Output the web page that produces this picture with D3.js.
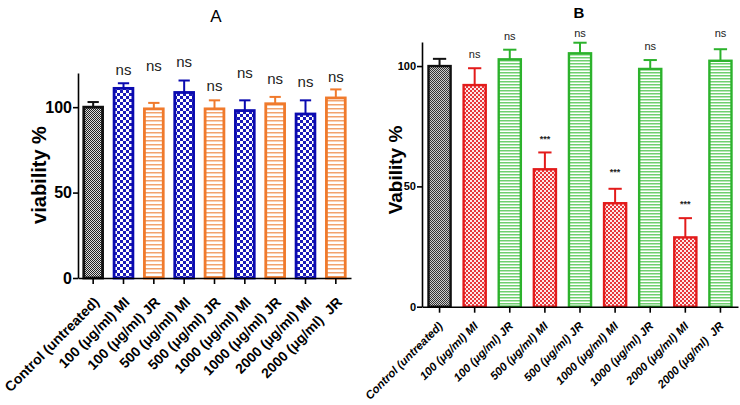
<!DOCTYPE html>
<html lang="en">
<head>
<meta charset="UTF-8" />
<title>Viability</title>
<script src="https://d3js.org/d3.v7.min.js"></script>
<style>
  body { margin: 0; background: #fff; }
  text { font-family: "Liberation Sans", Arial, sans-serif; white-space: pre; }
</style>
</head>
<body>
<script>
// categories shared by both panels
var categories = ["Control (untreated)", "100 (μg/ml) MI", "100 (μg/ml) JR", "500 (μg/ml) MI", "500 (μg/ml) JR",
  "1000 (μg/ml) MI", "1000 (μg/ml) JR", "2000 (μg/ml) MI", "2000 (μg/ml)  JR"];
var kinds = ["ctrl", "MI", "JR", "MI", "JR", "MI", "JR", "MI", "JR"];

// panel A
var meanA = [100, 111, 99, 108.6, 99, 98, 102, 96, 105.4];
var errA = [3, 3, 3.5, 7, 5, 6, 4, 8, 5];
var noteA = ["", "ns", "ns", "ns", "ns", "ns", "ns", "ns", "ns"];
var noteLevelA = [0, 121, 123.4, 125.7, 111.7, 119.3, 115.8, 114, 117];
var ticksA = [0, 50, 100];

// panel B
var meanB = [100, 92.1, 102.8, 57.1, 105.3, 43, 98.8, 28.8, 102.2];
var errB = [3, 7, 4, 7, 4.4, 6, 3.7, 8, 4.8];
var noteB = ["", "ns", "ns", "***", "ns", "***", "ns", "***", "ns"];
var noteLevelB = [0, 104.6, 112, 70.5, 113.4, 56.8, 107.9, 43.5, 113.3];
var ticksB = [0, 50, 100];

var svg = d3.select("body").append("svg")
  .attr("width", 740)
  .attr("height", 405);

var defs = svg.append("defs");

function checker(id, size, color, bg) {
  var p = defs.append("pattern").attr("id", id)
    .attr("patternUnits", "userSpaceOnUse")
    .attr("width", size * 2).attr("height", size * 2);
  p.append("rect").attr("width", size * 2).attr("height", size * 2).attr("fill", bg);
  p.append("rect").attr("width", size).attr("height", size).attr("fill", color);
  p.append("rect").attr("x", size).attr("y", size).attr("width", size).attr("height", size).attr("fill", color);
}
function hlines(id, gap, color, w) {
  var p = defs.append("pattern").attr("id", id)
    .attr("patternUnits", "userSpaceOnUse")
    .attr("width", 8).attr("height", gap);
  p.append("rect").attr("width", 8).attr("height", gap).attr("fill", "#fff");
  p.append("rect").attr("y", 0).attr("width", 8).attr("height", w).attr("fill", color);
}

checker("grayA", 1, "#222", "#ddd");
checker("blueA", 3, "#1a1ab8", "#fff");
hlines("orangeA", 4, "#f2a36e", 1.5);
checker("grayB", 1, "#333", "#ccc");
checker("redB", 2, "#e8363a", "#fde8e8");
hlines("greenB", 3, "#6fcf6f", 1.5);

var panelA = {
  mean: meanA, err: errA, note: noteA, noteLevel: noteLevelA, ticks: ticksA,
  xRange: [78, 351], yDomain: [0, 120], yRange: [278, 73], pad: 0.38,
  styles: {
    ctrl: { stroke: "#111", fill: "url(#grayA)" },
    MI: { stroke: "#0a0ab0", fill: "url(#blueA)" },
    JR: { stroke: "#f07a2c", fill: "url(#orangeA)" }
  },
  strokeW: 2.8, tickFont: "bold 16px", labelFont: "bold 14px", labelStyle: "normal",
  labelShift: [7, 25], noteFont: 15, starFont: 9,
  title: "A", titleX: 216, titleY: 22, titleFont: "normal 17px",
  yTitle: "viability %", yTitleX: 39, yTitleY: 175, yTitleFont: "bold 20px"
};

var panelB = {
  mean: meanB, err: errB, note: noteB, noteLevel: noteLevelB, ticks: ticksB,
  xRange: [422, 738], yDomain: [0, 110], yRange: [306.7, 42], pad: 0.37,
  styles: {
    ctrl: { stroke: "#111", fill: "url(#grayB)" },
    MI: { stroke: "#e31b1b", fill: "url(#redB)" },
    JR: { stroke: "#2cb22c", fill: "url(#greenB)" }
  },
  strokeW: 2.4, tickFont: "bold 11px", labelFont: "bold 11.5px", labelStyle: "italic",
  labelShift: [4, 20], noteFont: 11, starFont: 9,
  title: "B", titleX: 579, titleY: 18, titleFont: "bold 15px",
  yTitle: "Vability %", yTitleX: 395, yTitleY: 170, yTitleFont: "bold 19px"
};

function drawPanel(cfg) {
  var g = svg.append("g");
  var x = d3.scaleBand().domain(categories).range(cfg.xRange)
    .paddingInner(cfg.pad).paddingOuter(cfg.pad / 2);
  var y = d3.scaleLinear().domain(cfg.yDomain).range(cfg.yRange);
  var rows = categories.map(function (c, i) {
    return { cat: c, kind: kinds[i], mean: cfg.mean[i], err: cfg.err[i], note: cfg.note[i], level: cfg.noteLevel[i] };
  });

  // error bars (upper only)
  var capW = x.bandwidth() * 0.6;
  g.selectAll(".err").data(rows).enter().append("g")
    .attr("stroke", function (d) { return cfg.styles[d.kind].stroke; })
    .attr("stroke-width", 2)
    .each(function (d) {
      var cx = x(d.cat) + x.bandwidth() / 2;
      d3.select(this).append("line")
        .attr("x1", cx).attr("x2", cx)
        .attr("y1", y(d.mean)).attr("y2", y(d.mean + d.err));
      d3.select(this).append("line")
        .attr("x1", cx - capW / 2).attr("x2", cx + capW / 2)
        .attr("y1", y(d.mean + d.err)).attr("y2", y(d.mean + d.err));
    });

  g.selectAll(".bar").data(rows).enter().append("rect")
    .attr("x", function (d) { return x(d.cat); })
    .attr("y", function (d) { return y(d.mean); })
    .attr("width", x.bandwidth())
    .attr("height", function (d) { return y(0) - y(d.mean); })
    .attr("fill", function (d) { return cfg.styles[d.kind].fill; })
    .attr("stroke", function (d) { return cfg.styles[d.kind].stroke; })
    .attr("stroke-width", cfg.strokeW);

  // axes
  var yAxis = g.append("g")
    .attr("transform", "translate(" + cfg.xRange[0] + ",0)")
    .call(d3.axisLeft(y).tickValues(cfg.ticks).tickSize(5).tickSizeOuter(0).tickPadding(1));
  yAxis.selectAll("text").style("font", cfg.tickFont + ' "Liberation Sans", Arial, sans-serif').attr("fill", "#000");

  var xAxis = g.append("g")
    .attr("transform", "translate(0," + cfg.yRange[0] + ")")
    .call(d3.axisBottom(x).tickSize(6).tickSizeOuter(0));
  xAxis.selectAll("text")
    .attr("text-anchor", "end")
    .attr("x", null).attr("y", null).attr("dy", null)
    .attr("transform", "translate(" + cfg.labelShift[0] + "," + cfg.labelShift[1] + ") rotate(-45)")
    .style("font", cfg.labelStyle + " " + cfg.labelFont + ' "Liberation Sans", Arial, sans-serif')
    .attr("fill", "#000");
  g.selectAll(".domain, .tick line").attr("stroke", "#000").attr("stroke-width", 1.6);

  // significance notes
  g.selectAll(".note").data(rows.filter(function (d) { return d.note; })).enter().append("text")
    .attr("x", function (d) { return x(d.cat) + x.bandwidth() / 2; })
    .attr("y", function (d) { return y(d.level); })
    .attr("dy", function (d) { return d.note === "***" ? "0.55em" : "0.26em"; })
    .attr("text-anchor", "middle")
    .attr("font-size", function (d) { return d.note === "***" ? cfg.starFont : cfg.noteFont; })
    .attr("font-weight", function (d) { return d.note === "***" ? "bold" : "normal"; })
    .attr("fill", "#222")
    .text(function (d) { return d.note; });

  g.append("text")
    .attr("x", cfg.titleX).attr("y", cfg.titleY)
    .attr("text-anchor", "middle")
    .style("font", cfg.titleFont + ' "Liberation Sans", Arial, sans-serif')
    .text(cfg.title);

  g.append("text")
    .attr("transform", "translate(" + cfg.yTitleX + "," + cfg.yTitleY + ") rotate(-90)")
    .attr("text-anchor", "middle")
    .attr("dy", "0.35em")
    .style("font", cfg.yTitleFont + ' "Liberation Sans", Arial, sans-serif')
    .text(cfg.yTitle);
}

drawPanel(panelA);
drawPanel(panelB);
</script>
</body>
</html>
